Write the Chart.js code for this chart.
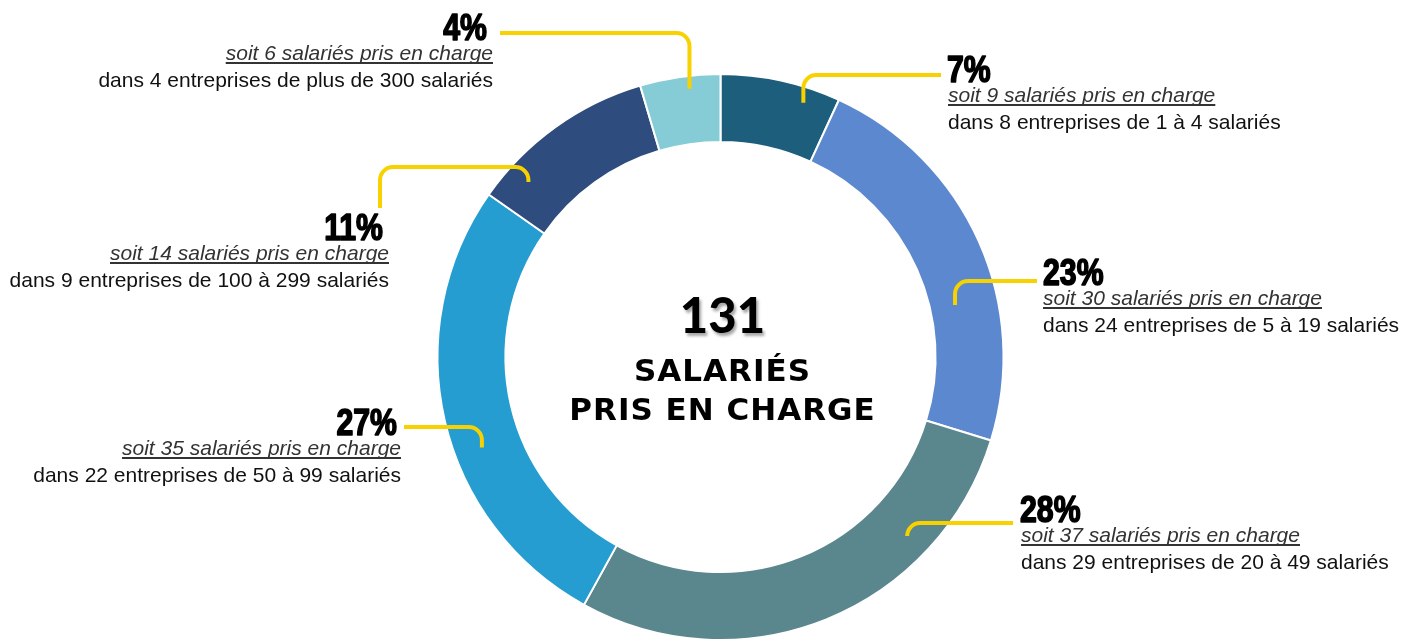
<!DOCTYPE html>
<html>
<head>
<meta charset="utf-8">
<script src="https://cdn.jsdelivr.net/npm/chart.js@4"></script>
<style>
  html, body { margin: 0; padding: 0; background: #fff; }
  #wrap { width: 1417px; height: 641px; position: relative; }
</style>
</head>
<body>
<div id="wrap"><canvas id="donut"></canvas></div>
<script>
// Salariés pris en charge, par taille d'entreprise (sens horaire depuis midi)
var tranches      = ['de 1 à 4 salariés', 'de 5 à 19 salariés', 'de 20 à 49 salariés',
                     'de 50 à 99 salariés', 'de 100 à 299 salariés', 'de plus de 300 salariés'];
var salaries      = [9, 30, 37, 35, 14, 6];
var entreprises   = [8, 24, 29, 22, 9, 4];
var pourcentages  = [7, 23, 28, 27, 11, 4];
var totalSalaries = 131;

var couleurs = ['#1d5e7c', '#5c88cf', '#5a878d', '#259dd0', '#2e4c7d', '#86ccd6'];
var jaune = '#f7d100';

// Callout layout: anchor inside the arc (t = fraction along the arc, r = fraction across the ring),
// leader path (vertical to elbowY, horizontal to endX, optional tail down to tailY), text block.
var callouts = [
  { t: 0.73, r: 0.77, elbowY: 75,  endX: 941, align: 'left',  pctX: 947, subX: 948, base: 82 },
  { t: 0.64, r: 0.37, elbowY: 281, endX: 1037, align: 'left', pctX: 1043, subX: 1043, base: 285 },
  { t: 0.26, r: 0.63, elbowY: 523, endX: 1013, align: 'left', pctX: 1020, subX: 1021, base: 522 },
  { t: 0.42, r: 0.59, elbowY: 427, endX: 404, align: 'right', pctX: 397, subX: 401, base: 435 },
  { t: 0.19, r: 0.66, elbowY: 167, endX: 380, tailY: 208, align: 'right', pctX: 383, subX: 389, base: 240 },
  { t: 0.60, r: 0.81, elbowY: 33,  endX: 500, align: 'right', pctX: 487, subX: 493, base: 40 }
];

function leader(ctx, pts, rad) {
  ctx.beginPath();
  ctx.moveTo(pts[0][0], pts[0][1]);
  for (var i = 1; i < pts.length - 1; i++) {
    ctx.arcTo(pts[i][0], pts[i][1], pts[i + 1][0], pts[i + 1][1], rad);
  }
  ctx.lineTo(pts[pts.length - 1][0], pts[pts.length - 1][1]);
  ctx.stroke();
}

// condensed heavy percentage: Liberation Sans Bold squeezed horizontally
function pctText(ctx, txt, x, y, align) {
  var sx = 0.84;
  ctx.save();
  ctx.translate(x, y);
  ctx.scale(sx, 1);
  ctx.font = 'bold 36px "Liberation Sans"';
  ctx.textAlign = align;
  ctx.fillStyle = '#000';
  ctx.strokeStyle = '#000';
  ctx.lineWidth = 1.6;
  ctx.lineJoin = 'round';
  ctx.fillText(txt, 0, 0);
  ctx.strokeText(txt, 0, 0);
  ctx.restore();
}

var calloutPlugin = {
  id: 'callouts',
  afterDatasetsDraw: function (chart) {
    var ctx = chart.ctx;
    var meta = chart.getDatasetMeta(0);
    ctx.save();
    meta.data.forEach(function (arc, i) {
      var c = callouts[i];
      var p = arc.getProps(['x', 'y', 'startAngle', 'endAngle', 'innerRadius', 'outerRadius'], true);
      var ang = p.startAngle + c.t * (p.endAngle - p.startAngle);
      var rad = p.innerRadius + c.r * (p.outerRadius - p.innerRadius);
      var ax = p.x + Math.cos(ang) * rad;
      var ay = p.y + Math.sin(ang) * rad;

      var pts = [[ax, ay], [ax, c.elbowY], [c.endX, c.elbowY]];
      if (c.tailY) pts.push([c.endX, c.tailY]);
      ctx.strokeStyle = jaune;
      ctx.lineWidth = 4;
      ctx.lineCap = 'butt';
      leader(ctx, pts, 13);

      pctText(ctx, pourcentages[i] + '%', c.pctX, c.base, c.align);

      ctx.textAlign = c.align;
      ctx.textBaseline = 'alphabetic';

      // underlined italic line
      var l1 = 'soit ' + salaries[i] + ' salariés pris en charge';
      ctx.font = 'italic 21px "Liberation Sans"';
      ctx.fillStyle = '#333';
      var y1 = c.base + 20;
      ctx.fillText(l1, c.subX, y1);
      var w = ctx.measureText(l1).width;
      var x0 = c.align === 'left' ? c.subX : c.subX - w;
      ctx.fillRect(x0, y1 + 2, w, 2);

      // plain line
      var l2 = 'dans ' + entreprises[i] + ' entreprises ' + tranches[i];
      ctx.font = '21px "Liberation Sans"';
      ctx.fillStyle = '#111';
      ctx.fillText(l2, c.subX, c.base + 47);
    });

    // centre text
    var a = meta.data[0];
    var cx = a.x + 2, cy = a.y;
    ctx.textAlign = 'center';
    ctx.fillStyle = '#000';
    ctx.font = '900 49px Lato';
    ctx.shadowColor = 'rgba(0,0,0,0.35)';
    ctx.shadowOffsetX = 2;
    ctx.shadowOffsetY = 3;
    ctx.shadowBlur = 3;
    ctx.fillText(String(totalSalaries), cx, cy - 24);
    ctx.shadowColor = 'transparent';
    ctx.font = 'bold 31px "DejaVu Sans"';
    ctx.letterSpacing = '1px';
    ctx.fillText('SALARIÉS', cx, cy + 24);
    ctx.fillText('PRIS EN CHARGE', cx, cy + 63);
    ctx.restore();
  }
};

new Chart(document.getElementById('donut'), {
  type: 'doughnut',
  data: {
    labels: tranches,
    datasets: [{
      data: salaries,
      backgroundColor: couleurs,
      borderColor: '#fff',
      borderWidth: 2,
      hoverOffset: 0
    }]
  },
  options: {
    responsive: true,
    maintainAspectRatio: false,
    animation: false,
    cutout: '76%',
    layout: { padding: { top: 73, bottom: -2, left: 435, right: 411 } },
    plugins: {
      legend: { display: false },
      tooltip: { enabled: false }
    }
  },
  plugins: [calloutPlugin]
});
</script>
</body>
</html>
